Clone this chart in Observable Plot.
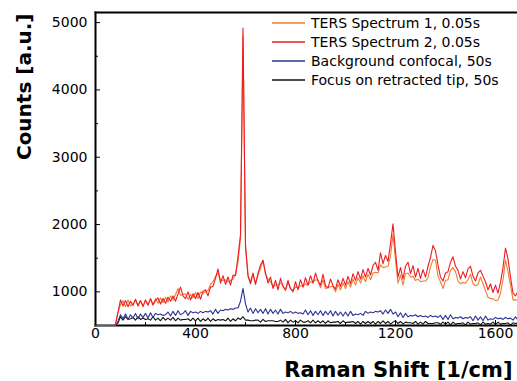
<!DOCTYPE html>
<html><head><meta charset="utf-8">
<script src="https://cdn.jsdelivr.net/npm/d3@7"></script>
<script src="https://cdn.jsdelivr.net/npm/@observablehq/plot@0.6"></script>
<style>
body{margin:0;background:#fff;font-family:"DejaVu Sans",sans-serif;}
#wrap{position:relative;width:517px;height:381px;overflow:hidden;background:#fff;}
#legend{position:absolute;left:0;top:0;}
</style></head><body><div id="wrap"></div>
<script>
// Raman shift grid (1/cm): values below are sampled every 10 1/cm from 0
const shiftStart = 0, shiftStep = 10;

const seriesNames = ["TERS Spectrum 1, 0.05s", "TERS Spectrum 2, 0.05s", "Background confocal, 50s", "Focus on retracted tip, 50s"];
const seriesColors = ["#f47b2c", "#ec1c24", "#2e3192", "#111111"];

// TERS Spectrum 1 (orange), one row per 100 1/cm
const ters1 = [
  500,500,500,500,500,500,500,500,510,690,
  810,870,780,880,790,820,880,800,870,790,
  870,810,890,800,900,830,910,840,920,850,
  940,880,960,1050,950,960,970,890,960,910,
  990,900,1000,980,1000,1020,1110,1150,1230,1280,
  1180,1170,1180,1150,1170,1190,1260,1450,1800,4800,
  1650,1260,1150,1260,1130,1250,1350,1460,1260,1190,
  1150,1080,1100,1100,1130,1100,1020,1140,1040,1030,
  1070,1060,1090,1080,1120,1100,1150,1140,1180,1170,
  1060,1180,1050,1060,1080,1080,1000,1110,1030,1130,
  1050,1150,1070,1190,1100,1210,1130,1240,1150,1260,
  1180,1280,1290,1280,1400,1360,1370,1380,1530,1850,
  1470,1130,1250,1100,1270,1280,1220,1230,1170,1190,
  1150,1160,1160,1210,1370,1480,1470,1230,1150,1050,
  1170,1180,1320,1360,1300,1160,1120,1140,1130,1180,
  1260,1120,1090,1110,1220,1120,1020,920,900,900,
  870,880,980,1180,1470,1300,1100,880,880,880
];

// TERS Spectrum 2 (red)
const ters2 = [
  500,500,500,500,500,500,500,500,520,700,
  880,790,870,780,860,800,890,790,870,780,
  880,800,900,810,870,910,820,900,830,920,
  860,940,860,970,1070,940,900,1000,880,970,
  900,990,890,1010,1030,940,1070,1080,1200,1340,
  1130,1240,1110,1220,1100,1250,1240,1520,1850,4920,
  1700,1230,1120,1280,1110,1270,1400,1470,1280,1130,
  1220,1050,1170,1030,1200,1080,1030,1170,1050,1000,
  1150,1030,1180,1070,1210,1100,1240,1130,1280,1160,
  1100,1260,1090,1060,1190,1090,1040,1180,1080,1200,
  1100,1230,1120,1270,1170,1300,1190,1330,1220,1350,
  1250,1390,1440,1320,1580,1420,1540,1450,1720,2010,
  1600,1220,1360,1190,1380,1440,1270,1390,1220,1350,
  1200,1330,1220,1380,1510,1690,1610,1400,1220,1160,
  1280,1300,1440,1520,1380,1320,1190,1300,1210,1340,
  1380,1230,1160,1280,1320,1230,1150,1030,1120,990,
  1100,980,1140,1360,1650,1490,1220,980,940,1010
];

// Background confocal (navy)
const background = [
  500,500,500,500,500,500,500,500,500,560,
  660,600,670,590,660,610,680,600,670,620,
  680,610,690,620,680,660,670,650,660,700,
  640,710,650,720,660,680,720,650,710,690,
  700,680,710,690,710,700,720,670,740,680,
  730,720,740,730,750,740,760,760,860,1050,
  820,700,760,680,750,690,740,680,750,670,
  740,680,730,670,740,680,700,690,710,680,
  700,680,690,670,730,660,720,650,710,660,
  720,650,710,660,720,640,710,650,700,640,
  700,640,710,650,670,660,680,650,710,680,
  700,690,710,700,720,670,730,680,740,670,
  700,630,690,620,680,630,650,640,660,630,
  650,630,640,620,650,630,640,620,650,590,
  650,590,660,600,620,610,630,600,620,610,
  630,570,640,580,630,570,640,580,600,590,
  620,600,610,590,620,600,610,580,630,580
];

// Focus on retracted tip (black)
const retracted = [
  500,500,500,500,500,500,500,500,500,540,
  630,580,630,590,600,620,580,630,590,610,
  590,600,580,630,580,610,570,620,580,610,
  580,620,570,610,580,590,590,600,570,610,
  570,610,560,600,570,610,560,600,570,590,
  580,590,570,610,560,600,570,610,590,630,
  580,580,570,570,580,580,550,590,560,570,
  570,570,560,560,580,550,590,540,580,550,
  570,540,580,550,550,570,540,580,540,570,
  540,570,530,570,540,550,550,560,530,570,
  540,550,550,560,530,560,520,560,530,560,
  530,560,520,560,530,570,530,560,520,550,
  570,530,560,520,550,540,540,530,560,520,
  550,520,560,530,530,530,540,540,520,550,
  520,550,510,550,520,530,530,540,510,550,
  520,530,530,540,510,550,520,530,520,550,
  510,550,520,530,530,540,510,540,530,540
];

const xDomain = [0, 1688];
const yDomain = [500, 5150];
const xMajorTicks = [0, 400, 800, 1200, 1600];
const xMinorTicks = [200, 600, 1000, 1400];
const yMajorTicks = [1000, 2000, 3000, 4000, 5000];
const yMinorTicks = [1500, 2500, 3500, 4500];
const xTitle = "Raman Shift [1/cm]";
const yTitle = "Counts [a.u.]";

const seriesValues = [ters1, ters2, background, retracted];
const rows = [];
seriesValues.forEach((vals, s) => vals.forEach((v, i) =>
  rows.push({series: seriesNames[s], shift: shiftStart + i * shiftStep, counts: v})));

// drawing order: black, navy, orange, red (red on top)
const drawOrder = [3, 2, 0, 1];

const chart = Plot.plot({
  width: 517, height: 381,
  marginTop: 12, marginBottom: 56, marginLeft: 95, marginRight: 0,
  x: {domain: xDomain},
  y: {domain: yDomain},
  style: {fontFamily: "DejaVu Sans", fontSize: "14px", color: "#000", background: "#fff", overflow: "visible"},
  marks: [
    Plot.frame({anchor: "left", strokeWidth: 2, stroke: "#000"}),
    Plot.frame({anchor: "top", strokeWidth: 2, stroke: "#000"}),
    Plot.frame({anchor: "bottom", strokeWidth: 2, stroke: "#000"}),
    ...drawOrder.map(s => Plot.line(rows.filter(r => r.series === seriesNames[s]),
      {x: "shift", y: "counts", stroke: seriesColors[s], strokeWidth: 1.1})),
    Plot.axisX({ticks: xMajorTicks, tickSize: -5, tickPadding: 8, tickFormat: d => String(d), label: null, fontSize: 14}),
    Plot.axisX({ticks: xMinorTicks, tickSize: -3, tickFormat: () => "", label: null}),
    Plot.axisY({ticks: yMajorTicks, tickSize: -5, tickPadding: 13, tickFormat: d => String(d), label: null, fontSize: 14}),
    Plot.axisY({ticks: yMinorTicks, tickSize: -3, tickFormat: () => "", label: null}),
    Plot.text([xTitle], {frameAnchor: "bottom-right", textAnchor: "end", lineAnchor: "bottom", dx: -5, dy: 51, fontSize: 21, fontWeight: "bold", text: d => d}),
    Plot.text([yTitle], {frameAnchor: "top-left", rotate: -90, textAnchor: "end", lineAnchor: "middle", dx: -71, dy: 1, fontSize: 20, fontWeight: "bold", text: d => d})
  ]
});
const wrap = document.getElementById("wrap");
wrap.append(chart);

// Legend overlay (inside plot area, top right)
const legendSvg = d3.create("svg")
  .attr("id", "legend")
  .attr("width", 517).attr("height", 100)
  .style("position", "absolute").style("left", "0px").style("top", "0px")
  .style("font-family", "DejaVu Sans").style("font-size", "14px");
seriesNames.forEach((name, s) => {
  const cy = 23 + s * 19;
  legendSvg.append("line")
    .attr("x1", 272).attr("x2", 305).attr("y1", cy).attr("y2", cy)
    .attr("stroke", seriesColors[s]).attr("stroke-width", 1.3);
  legendSvg.append("text")
    .attr("x", 311).attr("y", cy).attr("dy", "0.35em")
    .attr("fill", "#000").text(name);
});
wrap.append(legendSvg.node());
</script>
</body></html>
